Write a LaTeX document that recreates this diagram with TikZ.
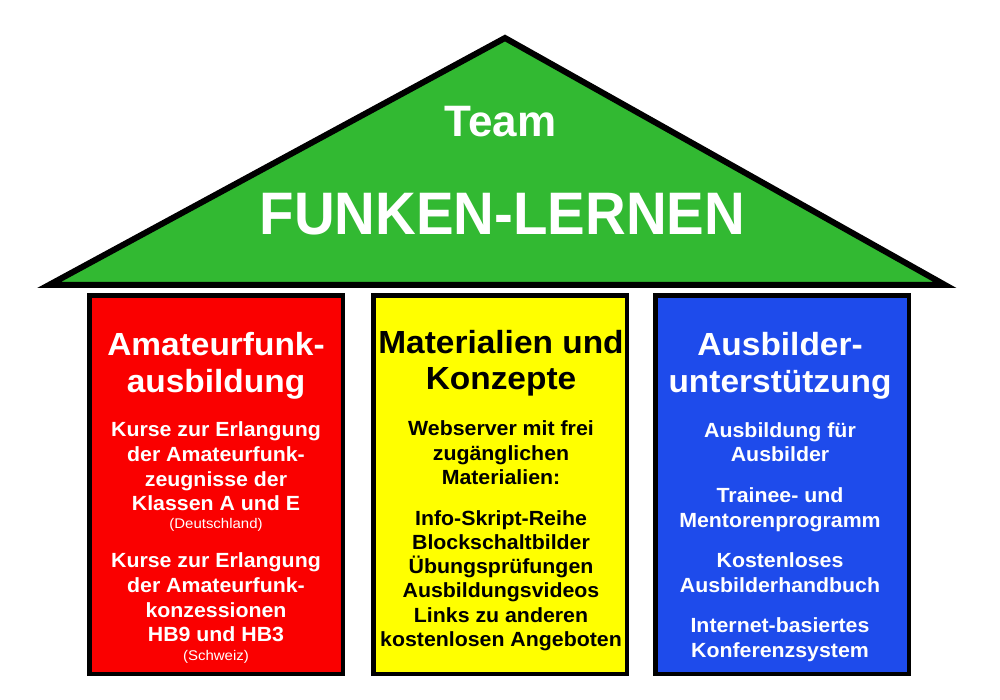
\documentclass[tikz,border=0pt]{standalone}
\usepackage{fontspec}
\setmainfont{Liberation Sans}
\usepackage{graphicx}
\definecolor{roofgreen}{RGB}{50,185,50}
\definecolor{pillarred}{RGB}{250,0,0}
\definecolor{pillaryellow}{RGB}{255,255,0}
\definecolor{pillarblue}{RGB}{30,75,235}
\newcommand\ttlx[1]{\scalebox{1.045}[1]{#1}}
\newcommand\bodyx[1]{\scalebox{1.04}[1]{#1}}
\newcommand\smallx[1]{\scalebox{1.07}[1]{#1}}
\tikzset{
  pillar/.style={draw=black, line width=4.5pt, minimum width=253.5pt, minimum height=378.5pt, inner sep=0pt},
  ttl/.style={anchor=base, inner sep=0pt, font=\fontsize{32}{32}\selectfont\bfseries},
  body/.style={anchor=base, inner sep=0pt, font=\fontsize{20.5}{20.5}\selectfont\bfseries},
  note/.style={anchor=base, inner sep=0pt, font=\fontsize{14}{14}\selectfont},
}
\begin{document}
\begin{tikzpicture}[x=1pt,y=-1pt]
\useasboundingbox[fill=white] (0,0) rectangle (1000,700);
% roof
\draw[line width=6pt, fill=roofgreen, line join=miter] (49,285) -- (505,38) -- (945,285) -- cycle;
\node[anchor=base, inner sep=0pt, text=white, font=\fontsize{44}{44}\selectfont\bfseries] (team) at (500.5,137) {Team};
\node[anchor=base, inner sep=0pt, text=white, font=\fontsize{60}{60}\selectfont\bfseries] (fl) at (502.5,235) {\scalebox{0.94}[1]{FUNKEN-LERNEN}};
% pillars
\node[pillar, fill=pillarred] (p1) at (216,484.5) {};
\node[pillar, fill=pillaryellow] (p2) at (500,484.5) {};
\node[pillar, fill=pillarblue] (p3) at (782,484.5) {};
% red column
\begin{scope}[text=white]
\node[ttl] (r1) at (216,355) {\ttlx{Amateurfunk-}};
\node[ttl] (r2) at (216,392) {\ttlx{ausbildung}};
\node[body] (r3) at (216,436) {\bodyx{Kurse zur Erlangung}};
\node[body] (r4) at (216,461) {\bodyx{der Amateurfunk-}};
\node[body] (r5) at (216,486) {\bodyx{zeugnisse der}};
\node[body] (r6) at (216,510) {\bodyx{Klassen A und E}};
\node[note] (r7) at (216,528) {\smallx{(Deutschland)}};
\node[body] (r8) at (216,567) {\bodyx{Kurse zur Erlangung}};
\node[body] (r9) at (216,592) {\bodyx{der Amateurfunk-}};
\node[body] (r10) at (216,617) {\bodyx{konzessionen}};
\node[body] (r11) at (216,641) {\bodyx{HB9 und HB3}};
\node[note] (r12) at (216,660) {\smallx{(Schweiz)}};
\end{scope}
% yellow column
\begin{scope}[text=black]
\node[ttl] (y1) at (501,353) {\ttlx{Materialien und}};
\node[ttl] (y2) at (501,389) {\ttlx{Konzepte}};
\node[body] (y3) at (501,435) {\bodyx{Webserver mit frei}};
\node[body] (y4) at (501,460) {\bodyx{zugänglichen}};
\node[body] (y5) at (501,484) {\bodyx{Materialien:}};
\node[body] (y6) at (501,525) {\bodyx{Info-Skript-Reihe}};
\node[body] (y7) at (501,549) {\bodyx{Blockschaltbilder}};
\node[body] (y8) at (501,573) {\bodyx{Übungsprüfungen}};
\node[body] (y9) at (501,597) {\bodyx{Ausbildungsvideos}};
\node[body] (y10) at (501,622) {\bodyx{Links zu anderen}};
\node[body] (y11) at (501,646) {\bodyx{kostenlosen Angeboten}};
\end{scope}
% blue column
\begin{scope}[text=white]
\node[ttl] (b1) at (780,355) {\ttlx{Ausbilder-}};
\node[ttl] (b2) at (780,392) {\ttlx{unterstützung}};
\node[body] (b3) at (780,437) {\bodyx{Ausbildung für}};
\node[body] (b4) at (780,461) {\bodyx{Ausbilder}};
\node[body] (b5) at (780,502) {\bodyx{Trainee- und}};
\node[body] (b6) at (780,527) {\bodyx{Mentorenprogramm}};
\node[body] (b7) at (780,567) {\bodyx{Kostenloses}};
\node[body] (b8) at (780,592) {\bodyx{Ausbilderhandbuch}};
\node[body] (b9) at (780,632) {\bodyx{Internet-basiertes}};
\node[body] (b10) at (780,657) {\bodyx{Konferenzsystem}};
\end{scope}
\end{tikzpicture}
\end{document}
